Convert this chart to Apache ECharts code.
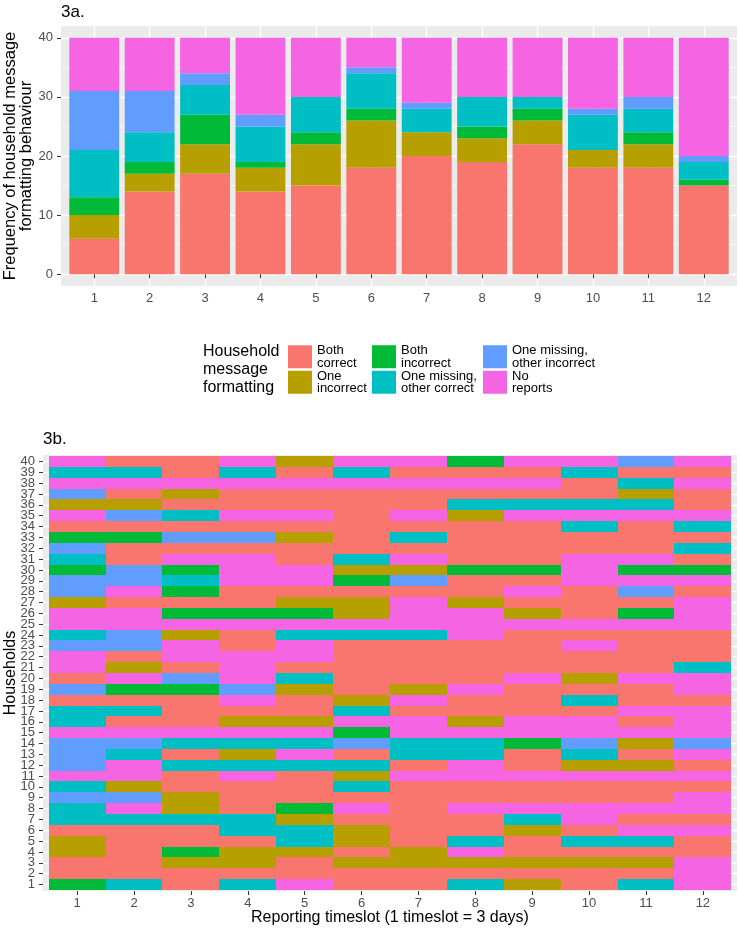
<!DOCTYPE html>
<html><head><meta charset="utf-8">
<script src="https://cdn.jsdelivr.net/npm/echarts@6/dist/echarts.min.js"></script>
<style>html,body{margin:0;padding:0;background:#fff}#chart{width:740px;height:932px}</style>
</head><body><div id="chart"></div>
<script>
// ---------- DATA ----------
const timeslots = [1, 2, 3, 4, 5, 6, 7, 8, 9, 10, 11, 12];
const categories = ['Both correct', 'One incorrect', 'Both incorrect',
  'One missing, other correct', 'One missing, other incorrect', 'No reports'];
const legendLabels = ['Both\ncorrect', 'One\nincorrect', 'Both\nincorrect',
  'One missing,\nother correct', 'One missing,\nother incorrect', 'No\nreports'];

// 3a: number of households per category in each timeslot
const bothCorrect      = [6, 14, 17, 14, 15, 18, 20, 19, 22, 18, 18, 15];
const oneIncorrect     = [4, 3, 5, 4, 7, 8, 4, 4, 4, 3, 4, 0];
const bothIncorrect    = [3, 2, 5, 1, 2, 2, 0, 2, 2, 0, 2, 1];
const missingCorrect   = [8, 5, 5, 6, 6, 6, 4, 5, 2, 6, 4, 3];
const missingIncorrect = [10, 7, 2, 2, 0, 1, 1, 0, 0, 1, 2, 1];
const noReports        = [9, 9, 6, 13, 10, 5, 11, 10, 10, 12, 10, 20];
const yTicksTop = [0, 10, 20, 30, 40];

// 3b: status codes per household (timeslots 1..12)
// C=Both correct, I=One incorrect, B=Both incorrect, M=One missing other correct,
// X=One missing other incorrect, N=No reports
const statusCodes = ['C', 'I', 'B', 'M', 'X', 'N'];
const households = [1,2,3,4,5,6,7,8,9,10,11,12,13,14,15,16,17,18,19,20,
  21,22,23,24,25,26,27,28,29,30,31,32,33,34,35,36,37,38,39,40];
const householdStatus = [
  'BMCMNCCMICMN', // 1
  'CCCCCCCCCCCN', // 2
  'CCIICIIIIIIN', // 3
  'ICBIICINCCCC', // 4
  'ICCCMICMCMMC', // 5
  'CCCMMICCICNN', // 6
  'MMMMICCCMNCC', // 7
  'MNICBNCNNNNN', // 8
  'XXICCCCCCCCN', // 9
  'MICCCMCCCCCC', // 10
  'NNCNCINNNNNN', // 11
  'XNMMMMCNCIIC', // 12
  'XMCINCMMCMCN', // 13
  'XXMMMXMMBXIX', // 14
  'NNNNNBNNNNNN', // 15
  'MCCIINNINNCN', // 16
  'MMCCCMCCCCNN', // 17
  'CCCNCINCCMCC', // 18
  'XBBXICINCCCN', // 19
  'CNXNMCCCNINN', // 20
  'NICNCCCCCCCM', // 21
  'NCNNNCCCCCCC', // 22
  'XXNCNCCCCNCC', // 23
  'MXICMMMNCCCC', // 24
  'NNNNNNNNNNNN', // 25
  'NNBBBINNICBN', // 26
  'ICCCIINICCCN', // 27
  'XNBCCCCCNCXC', // 28
  'XXMNNBXCCNNN', // 29
  'BXBNNIIBBNBB', // 30
  'MCNNCMNCCNNC', // 31
  'XCCCCCCCCCCM', // 32
  'BBXXICMCCCCC', // 33
  'CCCCCCCCCMCM', // 34
  'NXMNNCNINNNN', // 35
  'IICCCCCMMMMC', // 36
  'XCICCCCCCCIC', // 37
  'NNNNNNNNNCMN', // 38
  'MMCMCMCCCMCC', // 39
  'NCCNINNBNNXN'  // 40
];

// ---------- STYLE ----------
const colors = ['#F8766D', '#B79F00', '#00BA38', '#00BFC4', '#619CFF', '#F564E3'];
const FONT = '"Liberation Sans", Arial, Helvetica, sans-serif';
const panelBg = '#EBEBEB';
const tickColor = '#333333';
const labelColor = '#4D4D4D';

const barValues = [bothCorrect, oneIncorrect, bothIncorrect, missingCorrect, missingIncorrect, noReports];
const oddHouseholds = households.filter(h => h % 2 === 1);
const evenHouseholds = households.filter(h => h % 2 === 0);

function barRenderer(color) {
  return function (params, api) {
    const t = api.value(0), lo = api.value(1), hi = api.value(2);
    if (hi - lo <= 0) return null;
    const a = api.coord([t - 0.45, hi]);
    const b = api.coord([t + 0.45, lo]);
    return { type: 'rect', shape: { x: a[0], y: a[1], width: b[0] - a[0], height: b[1] - a[1] },
      style: { fill: color } };
  };
}
function tileRenderer(color) {
  return function (params, api) {
    const c = api.value(0), h = api.value(1);
    const a = api.coord([c - 0.5, h + 0.5]);
    const b = api.coord([c + 0.5, h - 0.5]);
    const x0 = Math.round(a[0]), y0 = Math.round(a[1]), x1 = Math.round(b[0]), y1 = Math.round(b[1]);
    return { type: 'rect', shape: { x: x0, y: y0, width: x1 - x0, height: y1 - y0 },
      style: { fill: color } };
  };
}

const series = [];
const base = timeslots.map(() => 0);
barValues.forEach((vals, k) => {
  const data = timeslots.map((t, i) => {
    const lo = base[i], hi = base[i] + vals[i];
    base[i] = hi;
    return [t, lo, hi];
  });
  series.push({
    type: 'custom', name: categories[k], xAxisIndex: 0, yAxisIndex: 0,
    itemStyle: { color: colors[k] }, encode: { x: 0, y: [1, 2] },
    renderItem: barRenderer(colors[k]), data: data, silent: true
  });
});
statusCodes.forEach((code, k) => {
  const data = [];
  households.forEach((h, hi) => {
    const row = householdStatus[hi];
    timeslots.forEach((t, ti) => { if (row[ti] === code) data.push([t, h]); });
  });
  series.push({
    type: 'custom', name: categories[k], xAxisIndex: 1, yAxisIndex: 1,
    itemStyle: { color: colors[k] }, encode: { x: 0, y: 1 },
    renderItem: tileRenderer(colors[k]), data: data, silent: true
  });
});

const tickStyle = { show: true, length: 4, lineStyle: { color: tickColor, width: 1 } };
const lblStyle = { color: labelColor, fontSize: 13, fontFamily: FONT, showMinLabel: true, showMaxLabel: true };
const whiteMajor = { show: true, lineStyle: { color: '#FFFFFF', width: 1.3 } };

function legendCol(left, names) {
  return {
    orient: 'vertical', left: left, top: 344, itemWidth: 24, itemHeight: 23, itemGap: 0,
    icon: 'rect', selectedMode: false, padding: 0, data: names,
    formatter: name => legendLabels[categories.indexOf(name)],
    textStyle: { fontSize: 13, lineHeight: 12.5, color: '#000', fontFamily: FONT }
  };
}

const option = {
  animation: false,
  backgroundColor: '#FFFFFF',
  textStyle: { fontFamily: FONT },
  title: [
    { text: '3a.', left: 61, top: 2, padding: 0,
      textStyle: { fontSize: 17, lineHeight: 20, fontWeight: 'normal', color: '#000', fontFamily: FONT } },
    { text: '3b.', left: 43, top: 429, padding: 0,
      textStyle: { fontSize: 17, lineHeight: 20, fontWeight: 'normal', color: '#000', fontFamily: FONT } },
    { text: 'Household\nmessage\nformatting', left: 203, top: 343, padding: 0,
      textStyle: { fontSize: 16, lineHeight: 18, fontWeight: 'normal', color: '#000', fontFamily: FONT } }
  ],
  legend: [
    legendCol(288, [categories[0], categories[1]]),
    legendCol(372, [categories[2], categories[3]]),
    legendCol(483, [categories[4], categories[5]])
  ],
  grid: [
    { left: 61, top: 26, width: 676, height: 260, show: true, backgroundColor: panelBg, borderWidth: 0,
      outerBoundsMode: 'none', containLabel: false },
    { left: 43, top: 455, width: 694, height: 436, show: true, backgroundColor: panelBg, borderWidth: 0,
      outerBoundsMode: 'none', containLabel: false }
  ],
  xAxis: [
    { type: 'value', gridIndex: 0, min: 0.4, max: 12.6,
      axisLine: { show: false },
      axisTick: Object.assign({ customValues: timeslots }, tickStyle),
      axisLabel: Object.assign({ customValues: timeslots, margin: 6 }, lblStyle),
      splitLine: whiteMajor },
    { type: 'value', gridIndex: 1, min: 0.4, max: 12.6,
      axisLine: { show: false },
      axisTick: Object.assign({ customValues: timeslots }, tickStyle),
      axisLabel: Object.assign({ customValues: timeslots, margin: 6 }, lblStyle),
      splitLine: whiteMajor,
      name: 'Reporting timeslot (1 timeslot = 3 days)', nameLocation: 'middle', nameGap: 19,
      nameMoveOverlap: false,
      nameTextStyle: { fontSize: 16, color: '#000', fontFamily: FONT } }
  ],
  yAxis: [
    { type: 'value', gridIndex: 0, min: -2, max: 42,
      axisLine: { show: false },
      axisTick: Object.assign({ customValues: yTicksTop }, tickStyle),
      axisLabel: Object.assign({ customValues: yTicksTop, margin: 8 }, lblStyle),
      splitLine: whiteMajor,
      minorTick: { show: false, splitNumber: 2 },
      minorSplitLine: { show: true, lineStyle: { color: '#FFFFFF', width: 0.6 } },
      name: 'Frequency of household message\nformatting behaviour', nameLocation: 'middle', nameGap: 27,
      nameMoveOverlap: false,
      nameTextStyle: { fontSize: 16.5, lineHeight: 16, color: '#000', fontFamily: FONT } },
    { type: 'value', gridIndex: 1, min: 0.4, max: 40.6, position: 'left',
      axisLine: { show: false },
      axisTick: Object.assign({ customValues: oddHouseholds }, tickStyle),
      axisLabel: Object.assign({ customValues: oddHouseholds, margin: 8 }, lblStyle),
      splitLine: whiteMajor,
      name: 'Households', nameLocation: 'middle', nameGap: 24,
      nameMoveOverlap: false,
      nameTextStyle: { fontSize: 16, color: '#000', fontFamily: FONT } },
    { type: 'value', gridIndex: 1, min: 0.4, max: 40.6, position: 'left', offset: 0,
      axisLine: { show: false },
      axisTick: Object.assign({ customValues: evenHouseholds }, tickStyle),
      axisLabel: Object.assign({ customValues: evenHouseholds, margin: 8 }, lblStyle),
      splitLine: whiteMajor }
  ],
  series: series
};

const chart = echarts.init(document.getElementById('chart'), null, { renderer: 'canvas' });
chart.setOption(option);
</script>
</body></html>
